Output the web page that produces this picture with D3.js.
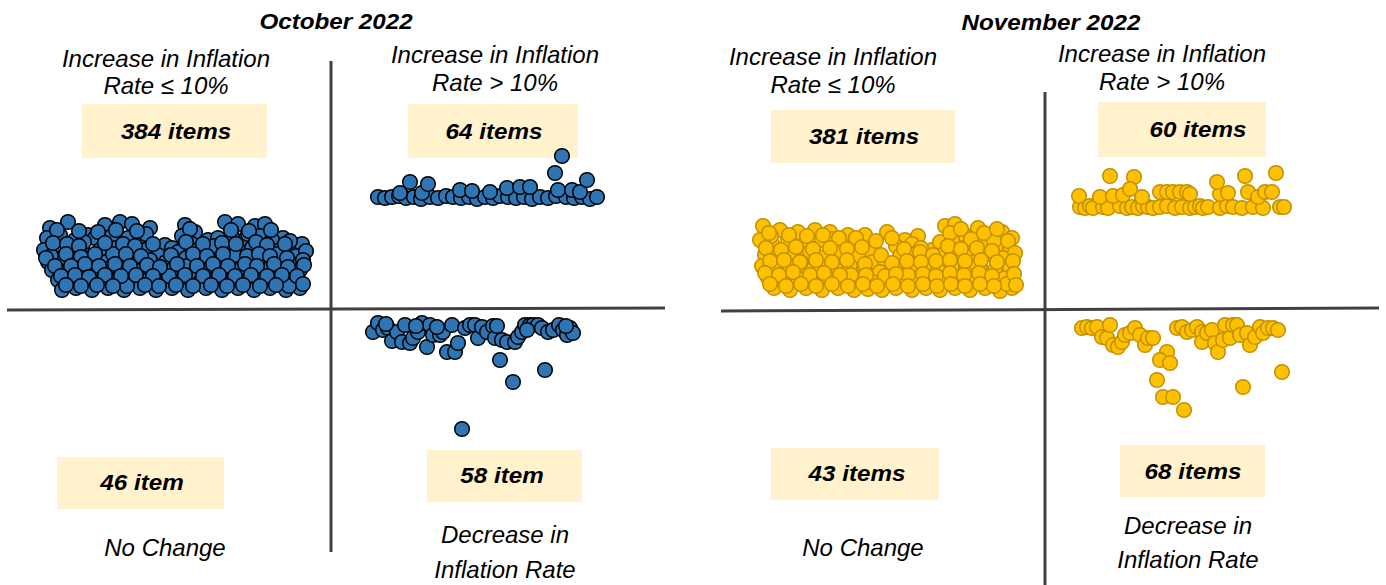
<!DOCTYPE html>
<html><head><meta charset="utf-8">
<script src="https://cdn.jsdelivr.net/npm/d3@7"></script>
<style>body{margin:0;background:#fff} svg{display:block}</style>
</head><body><svg id="c" width="1386" height="585"></svg>
<script>
const months = ["October 2022", "November 2022"];
const quadrantLabels = [["Increase in Inflation", "Rate ≤ 10%"], ["Increase in Inflation", "Rate > 10%"], ["No Change"], ["Decrease in", "Inflation Rate"]];
const octCounts = ["384 items", "64 items", "46 item", "58 item"];
const novCounts = ["381 items", "60 items", "43 items", "68 items"];

// [item position, change in inflation rate]
const octUpLeft = [
[4.3,8.2],[6.1,8.8],[8.1,7.5],[9.8,8.5],[11.3,8.8],[12.5,8.6],[14.3,8.2],[15.8,6.5],[17.8,8.5],[18.8,7.8],[20.1,7.0],[21.8,8.8],[23.1,8.6],[24.8,8.4],[25.8,8.6],[27.6,7.2],[29.1,6.5],
[4.0,7.2],[5.3,7.5],[6.8,7.0],[8.8,7.2],[10.5,7.4],[12.1,7.2],[13.3,6.8],[16.5,6.2],[17.5,7.4],[18.5,6.6],[21.1,7.2],[22.5,7.4],[23.8,7.0],[25.3,7.4],[26.5,7.0],[28.3,6.4],[29.5,6.6],
[3.7,6.0],[4.9,6.2],[6.3,5.8],[7.5,6.2],[9.3,6.0],[10.9,6.2],[12.3,5.8],[13.8,6.0],[15.1,5.5],[17.1,5.8],[19.1,6.0],[20.5,5.8],[21.9,6.2],[23.3,5.8],[24.5,6.2],[25.9,5.8],[27.3,6.0],[28.9,5.4],
[4.1,4.8],[5.5,5.2],[6.9,4.8],[8.3,5.2],[9.9,4.8],[11.5,5.2],[12.9,4.8],[14.3,5.0],[15.9,4.8],[17.9,5.2],[19.7,4.8],[21.1,5.2],[22.7,4.8],[24.1,5.2],[25.5,4.8],[26.9,5.2],[28.5,4.6],
[4.5,4.0],[5.9,3.8],[7.3,4.2],[8.9,3.8],[10.3,4.2],[11.9,3.8],[13.5,4.0],[15.1,3.8],[16.7,4.2],[18.7,3.8],[20.3,4.2],[21.9,3.8],[23.5,4.2],[24.9,3.8],[26.3,4.2],[27.9,3.8],[29.3,4.0],
[5.1,3.0],[6.5,2.8],[7.9,3.2],[9.5,2.8],[11.1,3.2],[12.7,2.8],[14.1,3.0],[15.5,2.8],[17.3,3.2],[19.3,2.8],[20.9,3.2],[22.5,2.8],[24.1,3.0],[25.7,2.8],[27.1,3.2],[28.7,2.8],
[5.5,2.0],[6.9,2.2],[8.5,2.0],[10.1,2.2],[11.7,2.0],[13.3,2.2],[14.9,2.0],[16.5,2.2],[18.1,2.0],[19.9,2.2],[21.5,2.0],[23.1,2.2],[24.7,2.0],[26.3,2.2],[27.9,2.0],[29.3,2.2],
[4.4,5.4],[7.7,6.8],[13.9,7.6],[20.7,6.4],[24.1,7.6],[27.0,5.6],[18.0,4.4],[10.6,5.6],[22.8,5.5],[16.2,3.4],[8.6,3.5],[12.0,2.4],[25.0,3.4],[28.2,2.4],
[5.0,8.0],[7.2,7.9],[9.1,7.8],[10.9,8.0],[13.0,7.9],[18.3,8.1],[22.4,8.0],[24.2,7.9],[26.4,8.0],[28.3,6.9],
[4.6,6.7],[6.0,6.6],[7.2,6.4],[9.8,6.7],[11.6,6.6],[12.8,6.4],[14.6,6.6],[17.9,6.8],[19.6,6.6],[21.5,6.7],[22.9,6.6],[24.9,6.8],[26.0,6.5],[27.8,6.6],[29.9,5.9],
[3.9,5.2],[5.9,5.6],[7.4,5.3],[8.8,5.6],[11.9,5.6],[13.4,5.4],[16.4,5.5],[18.6,5.6],[20.0,5.4],[21.6,5.6],[24.0,5.4],[25.2,5.6],[26.3,5.4],[28.0,5.2],[29.6,5.0],
[4.8,4.4],[6.4,4.4],[7.8,4.6],[9.2,4.4],[10.8,4.6],[12.3,4.4],[14.0,4.5],[15.3,4.3],[17.0,4.6],[19.0,4.4],[20.6,4.6],[22.1,4.4],[23.8,4.6],[25.0,4.4],[26.7,4.6],[28.1,4.3],[29.7,4.5],
[5.4,3.4],[6.8,3.5],[8.2,3.3],[9.8,3.5],[11.4,3.4],[12.9,3.5],[14.6,3.4],[17.8,3.5],[19.6,3.4],[21.2,3.5],[22.8,3.4],[24.4,3.5],[26.0,3.4],[27.5,3.5],[29.0,3.4],
[5.9,2.5],[7.4,2.4],[9.0,2.5],[10.6,2.4],[13.8,2.5],[15.2,2.4],[16.9,2.5],[18.6,2.4],[20.4,2.5],[22.0,2.4],[23.6,2.5],[25.3,2.4],[26.9,2.5],[29.6,2.6]
];
const octUpRight = [
[37.1,11.3],[37.8,11.2],[38.5,11.3],[39.2,11.4],[39.9,11.2],[40.7,11.3],[41.4,11.1],[42.3,11.3],[43.1,11.2],[43.9,11.4],[44.6,11.3],[45.4,11.2],[46.2,11.3],[47.0,11.1],[47.8,11.3],
[48.6,11.2],[49.3,11.4],[50.1,11.3],[50.9,11.2],[51.7,11.3],[52.5,11.1],[53.3,11.3],[54.1,11.2],[54.9,11.4],[55.9,11.3],[56.7,11.2],[57.5,11.3],[58.3,11.1],[59.0,11.3],
[39.3,11.7],[41.5,11.7],[45.3,12.0],[46.5,11.9],[48.3,11.8],[50.0,12.2],[51.3,12.3],[52.3,12.3],[55.1,12.0],[56.5,12.0],[57.3,11.8],
[40.3,12.8],[42.1,12.6],[54.8,13.7],[55.5,15.4],[58.0,13.0]
];
const octDownRight = [
[36.6,-2.2],[37.1,-1.3],[37.6,-2.0],[38.1,-1.8],[38.5,-3.1],[39.0,-2.2],[39.5,-3.2],[39.8,-1.5],[40.3,-3.3],[40.6,-2.8],[41.1,-2.2],[41.5,-1.3],[42.0,-3.7],[42.3,-1.5],[42.6,-2.5],
[43.3,-2.5],[43.6,-2.2],[44.0,-4.2],[44.5,-1.5],[44.8,-4.2],[45.1,-3.3],[45.8,-1.8],[46.3,-1.5],[46.8,-1.5],[47.1,-2.8],[47.5,-1.7],[48.0,-2.2],[48.6,-1.6],[48.8,-2.8],[49.3,-5.0],
[49.5,-3.0],[50.0,-3.2],[50.6,-7.2],[50.8,-3.2],[51.1,-2.7],[51.5,-2.2],[51.8,-1.5],[52.3,-1.5],[52.6,-1.5],[53.1,-1.5],[53.5,-1.8],[53.8,-6.0],[54.1,-2.2],[54.6,-2.0],[55.2,-1.5],
[55.6,-2.0],[56.0,-2.5],[56.3,-1.8],[56.6,-2.3],[45.5,-11.9],
[37.9,-1.4],[40.9,-1.6],[43.0,-1.7],[49.0,-1.6],[52.0,-2.0],[55.9,-1.6]
];
const novUpLeft = [
[4.2,8.5],[5.9,8.1],[7.7,7.9],[9.4,8.1],[10.9,7.9],[12.7,7.6],[14.4,7.6],[16.6,7.9],[18.4,7.1],[19.7,7.5],[21.1,6.1],[22.4,8.5],[23.4,8.7],[24.4,7.6],[25.7,8.3],[26.9,7.6],[28.1,7.9],[29.1,7.3],
[3.9,7.1],[5.1,6.7],[6.7,7.1],[8.4,6.7],[10.1,7.1],[11.7,6.6],[13.4,6.9],[14.9,6.1],[17.5,6.5],[19.1,6.7],[21.9,6.9],[23.1,7.1],[24.7,6.5],[26.4,6.9],[27.7,6.3],[28.9,6.1],
[4.4,5.6],[5.7,5.9],[7.3,5.5],[8.9,5.9],[10.5,5.5],[12.1,5.9],[13.7,5.4],[15.1,4.9],[16.4,4.9],[17.9,5.5],[19.4,5.7],[20.7,5.3],[22.1,5.6],[23.7,5.9],[25.1,5.5],[26.7,5.7],[28.2,5.3],
[4.1,4.5],[5.4,4.1],[6.9,4.5],[8.5,4.1],[9.9,4.5],[11.5,4.1],[12.9,4.5],[14.3,4.1],[15.9,3.9],[17.4,4.3],[18.9,4.1],[20.4,4.5],[21.7,4.1],[23.1,4.5],[24.5,4.1],[25.9,4.5],[27.4,4.1],[28.9,4.3],
[4.7,3.3],[6.1,2.9],[7.7,3.3],[9.1,2.9],[10.7,3.3],[12.3,2.9],[13.7,3.3],[15.1,2.9],[16.7,3.1],[18.1,2.9],[19.7,3.3],[21.1,2.9],[22.5,3.3],[23.9,2.9],[25.4,3.3],[26.9,2.9],[28.4,3.3],
[5.3,2.3],[6.9,2.1],[8.5,2.3],[10.1,2.1],[11.7,2.3],[13.3,2.1],[14.7,2.2],[16.1,2.1],[17.5,2.3],[19.1,2.1],[20.5,2.3],[21.9,2.1],[23.4,2.3],[24.9,2.1],[26.4,2.3],[27.9,2.0],[29.1,2.3],
[5.0,7.5],[8.0,4.9],[11.2,7.2],[13.0,3.6],[18.7,3.6],[22.9,6.3],[25.3,4.9],[27.3,7.0],[28.6,2.7],[16.0,5.6],[20.0,6.3],
[4.8,7.8],[6.8,7.6],[8.6,7.5],[10.2,7.6],[11.8,7.3],[13.5,7.3],[15.5,7.0],[17.1,7.3],[22.9,7.8],[24.0,8.2],[25.0,7.2],[26.3,7.8],[27.6,8.2],[28.7,7.0],
[4.5,6.3],[6.0,6.1],[7.5,6.4],[9.2,6.2],[10.9,6.3],[12.6,6.2],[14.1,6.4],[18.3,6.2],[19.9,5.9],[21.2,5.6],[22.7,6.5],[24.0,6.2],[25.6,6.3],[27.1,6.0],[29.4,5.8],
[4.9,5.0],[6.3,5.1],[7.9,4.9],[9.5,5.1],[11.1,4.9],[12.6,5.1],[14.4,4.7],[17.1,4.8],[18.6,5.0],[20.0,4.9],[21.5,5.0],[22.9,5.1],[24.4,5.0],[26.0,5.1],[27.6,4.9],[29.2,5.0],
[4.4,3.8],[5.8,3.6],[7.2,3.9],[8.9,3.6],[10.3,3.8],[11.9,3.6],[14.5,3.6],[16.4,3.5],[17.5,3.7],[20.2,3.7],[21.5,3.5],[22.9,3.8],[24.3,3.6],[25.8,3.8],[27.1,3.5],[29.3,3.7],
[4.9,2.7],[6.5,2.5],[8.0,2.7],[9.5,2.5],[11.1,2.7],[12.7,2.5],[14.2,2.7],[15.6,2.5],[17.2,2.7],[18.7,2.5],[20.2,2.7],[21.6,2.5],[23.0,2.7],[24.4,2.5],[25.9,2.7],[27.3,2.5],[29.5,2.6]
];
const novUpRight = [
[35.9,10.4],[36.4,10.3],[36.9,10.5],[37.2,10.3],[38.2,10.4],[38.7,10.3],[39.9,10.5],[40.6,10.3],[41.1,10.4],[41.7,10.3],[42.2,10.5],[42.7,10.4],[43.2,10.3],[43.9,10.4],[44.6,10.5],
[45.4,10.3],[46.1,10.4],[46.9,10.3],[47.4,10.4],[47.9,10.5],[48.2,10.3],[48.7,10.4],[49.9,10.3],[50.6,10.5],[51.2,10.4],[52.1,10.3],[53.2,10.4],[54.2,10.3],[55.9,10.4],[56.3,10.4],
[35.8,11.5],[37.9,11.4],[39.2,11.5],[40.2,11.6],[42.1,11.4],[43.9,11.9],[44.6,11.9],[45.2,11.9],[45.9,11.9],[46.6,11.9],[46.9,11.7],[49.9,11.7],[50.7,11.8],[52.7,11.9],[53.7,11.4],[54.4,11.9],[55.1,11.9],
[38.9,13.5],[41.3,13.4],[40.9,12.2],[49.6,12.9],[52.4,13.5],[55.5,13.8]
];
const novDownRight = [
[36.1,-1.7],[36.6,-1.6],[37.1,-1.7],[37.6,-1.6],[38.1,-2.6],[38.6,-2.7],[38.9,-1.4],[39.2,-3.4],[39.7,-3.6],[40.1,-3.1],[40.4,-2.4],[40.9,-2.2],[41.4,-1.7],[41.9,-2.4],[42.4,-3.4],
[42.7,-2.7],[43.2,-2.7],[44.6,-4.1],[43.9,-4.9],[44.9,-5.2],[43.6,-6.9],[44.2,-8.6],[45.2,-8.6],[46.3,-9.9],[45.6,-1.7],[46.1,-1.6],[46.6,-2.1],[47.1,-1.9],[47.6,-1.6],[48.1,-2.1],
[48.1,-3.1],[48.6,-2.2],[49.1,-1.9],[49.4,-3.2],[49.7,-4.1],[50.2,-2.9],[50.4,-1.4],[50.9,-2.7],[51.2,-1.4],[51.6,-1.4],[51.9,-2.4],[52.2,-7.6],[52.6,-2.2],[52.9,-3.4],[53.4,-2.6],
[53.9,-1.6],[54.2,-2.2],[54.7,-1.7],[55.2,-1.7],[55.7,-1.9],[56.1,-6.1]
];

const panels = [
  { title: months[0], series: [octUpLeft, octUpRight, octDownRight], counts: octCounts,
    fill: "#2E75B6", stroke: "#000000",
    range: [7, 665], zeroY: 310, tilt: -2, vTop: 61, vBot: 552,
    titleX: 336, titleY: 29,
    labels: [{x:166, y:[67,94]}, {x:495, y:[63,91]}, {x:165, y:[556]}, {x:505, y:[543,578]}],
    boxes: [{x:82,y:104,w:185,h:54,tx:176,ty:139},{x:408,y:104,w:170,h:54,tx:494,ty:139},
            {x:57,y:457,w:167,h:52,tx:142,ty:490},{x:427,y:450,w:155,h:52,tx:502,ty:483}] },
  { title: months[1], series: [novUpLeft, novUpRight, novDownRight], counts: novCounts,
    fill: "#FFC000", stroke: "#C09000",
    range: [721, 1379], zeroY: 311, tilt: -3, vTop: 92, vBot: 585,
    titleX: 1051, titleY: 30,
    labels: [{x:833, y:[65,93]}, {x:1162, y:[62,90]}, {x:863, y:[556]}, {x:1188, y:[534,568]}],
    boxes: [{x:771,y:110,w:184,h:53,tx:864,ty:144},{x:1098,y:102,w:168,h:55,tx:1198,ty:137},
            {x:771,y:448,w:168,h:52,tx:857,ty:481},{x:1120,y:445,w:145,h:52,tx:1193,ty:479}] }
];

const svg = d3.select("#c");
const font = "'Liberation Sans', Arial, sans-serif";

panels.forEach(p => {
  const x = d3.scaleLinear().domain([0, 65.8]).range(p.range);
  const y = d3.scaleLinear().domain([-10, 10]).range([p.zeroY + 100, p.zeroY - 100]);
  const g = svg.append("g");

  g.append("line").attr("x1", x(0)).attr("x2", x(65.8))
    .attr("y1", y(0)).attr("y2", y(0) + p.tilt)
    .attr("stroke", "#404040").attr("stroke-width", 3);
  g.append("line").attr("x1", x(32.4)).attr("x2", x(32.4))
    .attr("y1", p.vTop).attr("y2", p.vBot)
    .attr("stroke", "#404040").attr("stroke-width", 3);

  g.selectAll("rect.box").data(p.boxes).join("rect").attr("class", "box")
    .attr("x", d => d.x).attr("y", d => d.y).attr("width", d => d.w).attr("height", d => d.h)
    .attr("fill", "#FFF2CC");

  p.series.forEach(s => {
    g.append("g").selectAll("circle").data(s).join("circle")
      .attr("cx", d => x(d[0])).attr("cy", d => y(d[1])).attr("r", 7.3)
      .attr("fill", p.fill).attr("stroke", p.stroke).attr("stroke-width", 1.5);
  });

  g.selectAll("text.cnt").data(p.boxes).join("text").attr("class", "cnt")
    .attr("transform", d => `translate(${d.tx},${d.ty}) scale(1.1,1)`)
    .attr("text-anchor", "middle").attr("font-family", font).attr("font-size", 22)
    .attr("font-weight", "bold").attr("font-style", "italic").attr("fill", "#000")
    .text((d, i) => p.counts[i]);

  g.append("text").attr("transform", `translate(${p.titleX},${p.titleY}) scale(1.1,1)`)
    .attr("text-anchor", "middle").attr("font-family", font).attr("font-size", 22)
    .attr("font-weight", "bold").attr("font-style", "italic").attr("fill", "#000")
    .text(p.title);

  p.labels.forEach((l, i) => {
    quadrantLabels[i].forEach((t, j) => {
      g.append("text").attr("x", l.x).attr("y", l.y[j])
        .attr("text-anchor", "middle").attr("font-family", font).attr("font-size", 24)
        .attr("font-style", "italic").attr("fill", "#000").text(t);
    });
  });
});
</script>
</body></html>
